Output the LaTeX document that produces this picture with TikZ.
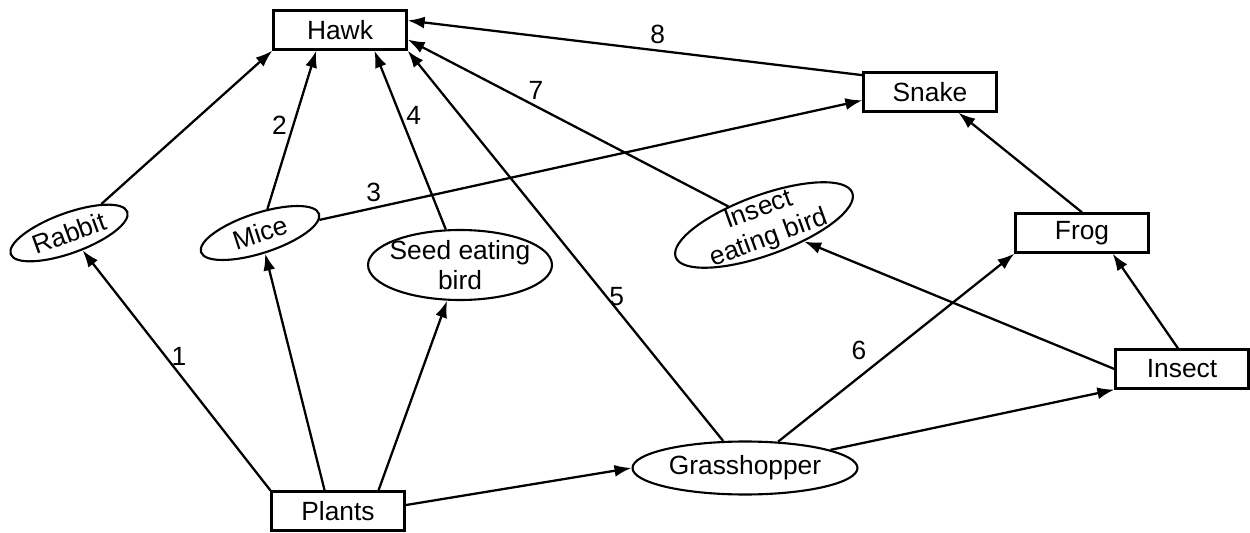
\documentclass[tikz,border=0pt]{standalone}
\usepackage{fontspec}
\setmainfont{Liberation Sans}
\usetikzlibrary{shapes.geometric,arrows.meta}
\begin{document}
\begin{tikzpicture}[x=0.02cm,y=-0.02cm,
        every node/.style={font=\fontsize{15}{17}\selectfont},
        box/.style={draw,line width=1.3pt,minimum width=2.66cm,minimum height=0.78cm,inner sep=0pt},
        oval/.style={draw,ellipse,line width=1.2pt,inner sep=-4pt,align=center},
        arr/.style={-{Latex[length=3.4mm,width=2.4mm]},line width=1.3pt},
        num/.style={inner sep=3pt}]
            \useasboundingbox (0,0) rectangle (1250,533);
            % boxes
            \node[box] (hawk) at (340,30) {Hawk};
            \node[box] (snake) at (930,92) {Snake};
            \node[box] (frog) at (1082,233) {Frog};
            \node[box] (insect) at (1182,369) {Insect};
            \node[box] (plants) at (338,511) {Plants};
            % ovals
            \node[oval,rotate=20,minimum width=2.48cm,minimum height=0.8cm] (rabbit) at (69,233) {Rabbit};
            \node[oval,rotate=18,minimum width=2.48cm,minimum height=0.8cm] (mice) at (260,233) {Mice};
            \node[oval,minimum width=3.68cm,minimum height=1.4cm] (seed) at (460,265) {Seed eating\\bird};
            \node[oval,rotate=20,minimum width=3.76cm,minimum height=1.2cm] (ieb) at (764,225) {Insect\\eating bird};
            \node[oval,minimum width=4.5cm,minimum height=1.06cm] (grass) at (745,468) {Grasshopper};
            % links
            \draw[arr] (plants.north west) -- node[num,pos=0.56,right] {1} (rabbit);
            \draw[arr] (plants.123) -- (mice);
            \draw[arr] (plants.27) -- (seed);
            \draw[arr] (plants.5) -- (grass.west);
            \draw[arr] (rabbit) -- (hawk.south west);
            \draw[arr] (mice) -- node[num,pos=0.53,left] {2} (hawk.221);
            \draw[arr] (mice) -- node[num,pos=0.1,above] {3} (snake.187);
            \draw[arr] (seed) -- node[num,pos=0.64,right] {4} (hawk.329);
            \draw[arr] (grass) -- node[num,pos=0.37,right,inner sep=1pt] {5} (hawk.south east);
            \draw[arr] (grass) -- node[num,pos=0.4,above left] {6} (frog.south west);
            \draw[arr] (ieb) -- node[num,pos=0.6,above] {7} (hawk.-8);
            \draw[arr] (snake.166) -- node[num,pos=0.45,above] {8} (hawk.8);
            \draw[arr] (grass) -- (insect.south west);
            \draw[arr] (insect.west) -- (ieb);
            \draw[arr] (insect.101) -- (frog.326);
            \draw[arr] (frog.north) -- (snake.324);
        \end{tikzpicture}
\end{document}
